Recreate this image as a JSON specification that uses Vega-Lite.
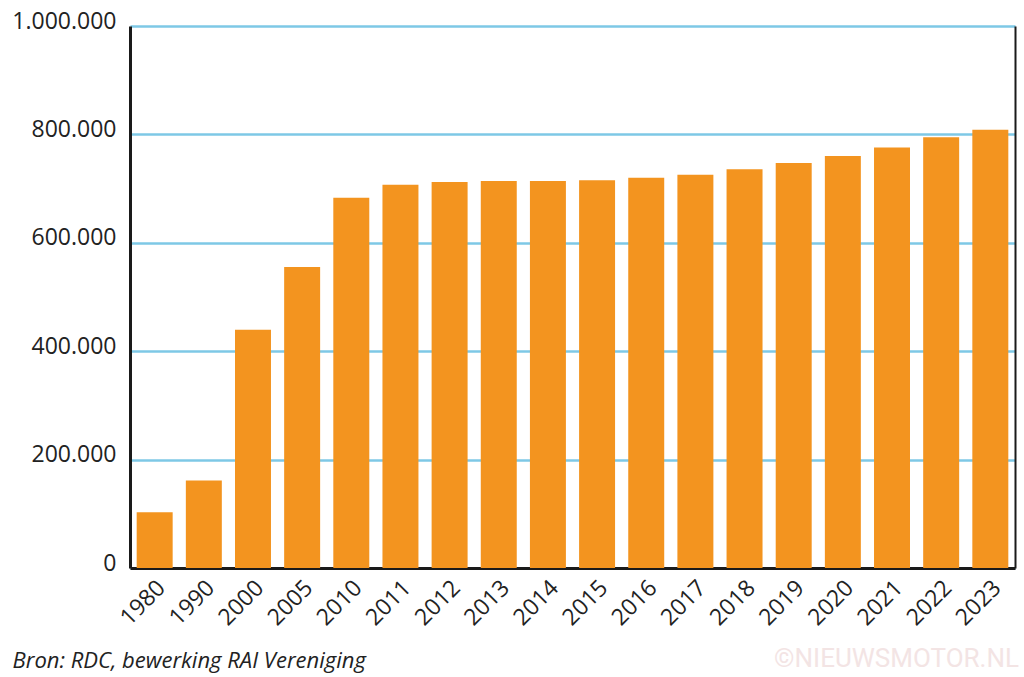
{
  "$schema": "https://vega.github.io/schema/vega-lite/v6.json",
  "autosize": "none",
  "width": 885,
  "height": 542,
  "padding": {"left": 130, "top": 26, "right": 9, "bottom": 109},
  "background": "#ffffff",
  "title": {
    "text": "©NIEUWSMOTOR.NL",
    "orient": "bottom",
    "anchor": "end",
    "frame": "group",
    "font": "Roboto",
    "fontSize": 26,
    "fontWeight": "normal",
    "color": "#f3e4e4",
    "offset": 0,
    "dy": -25,
    "dx": 4
  },
  "data": {
    "values": [
      {"year": "1980", "value": 103000},
      {"year": "1990", "value": 161500},
      {"year": "2000", "value": 439600},
      {"year": "2005", "value": 555200},
      {"year": "2010", "value": 683000},
      {"year": "2011", "value": 707000},
      {"year": "2012", "value": 712000},
      {"year": "2013", "value": 714000},
      {"year": "2014", "value": 714000},
      {"year": "2015", "value": 715500},
      {"year": "2016", "value": 720000},
      {"year": "2017", "value": 725700},
      {"year": "2018", "value": 735500},
      {"year": "2019", "value": 747200},
      {"year": "2020", "value": 760100},
      {"year": "2021", "value": 775600},
      {"year": "2022", "value": 794600},
      {"year": "2023", "value": 808800}
    ]
  },
  "encoding": {
    "x": {
      "field": "year",
      "type": "ordinal",
      "sort": null,
      "scale": {"paddingInner": 0.268, "paddingOuter": 0.136},
      "axis": {
        "title": "Bron: RDC, bewerking RAI Vereniging",
        "titleFont": "Open Sans",
        "titleFontStyle": "italic",
        "titleFontWeight": "normal",
        "titleFontSize": 22,
        "titleColor": "#222222",
        "titleAnchor": "start",
        "titleAlign": "left",
        "titleBaseline": "alphabetic",
        "titleX": -118,
        "titleY": 99,
        "labelAngle": -45,
        "labelAlign": "right",
        "labelBaseline": "middle",
        "labelFont": "Open Sans",
        "labelFontSize": 23,
        "labelColor": "#222222",
        "labelPadding": 16,
        "labelOffset": 7,
        "ticks": false,
        "domainColor": "#1a1a1a",
        "domainWidth": 3
      }
    }
  },
  "layer": [
    {
      "mark": {"type": "bar", "color": "#f3941f"},
      "encoding": {
        "y": {
          "field": "value",
          "type": "quantitative",
          "scale": {"domain": [0, 1000000], "nice": false},
          "axis": {
            "title": null,
            "orient": "left",
            "values": [0, 200000, 400000, 600000, 800000, 1000000],
            "labelExpr": "replace(replace(format(datum.value, ','), ',', '.'), ',', '.')",
            "labelFont": "Open Sans",
            "labelFontSize": 23,
            "labelColor": "#222222",
            "labelPadding": 14,
            "labelOffset": -5,
            "ticks": false,
            "domainColor": "#1a1a1a",
            "domainWidth": 3,
            "grid": true,
            "gridColor": "#7ec8e6",
            "gridWidth": 2.6,
            "gridOpacity": 1
          }
        }
      }
    },
    {
      "mark": {"type": "bar", "opacity": 0},
      "encoding": {
        "y": {
          "field": "value",
          "type": "quantitative",
          "scale": {"domain": [0, 1000000], "nice": false},
          "axis": {
            "title": null,
            "orient": "right",
            "labels": false,
            "ticks": false,
            "grid": false,
            "domainColor": "#1a1a1a",
            "domainWidth": 2
          }
        }
      }
    }
  ],
  "resolve": {"axis": {"y": "independent"}},
  "config": {"view": {"stroke": null}}
}
